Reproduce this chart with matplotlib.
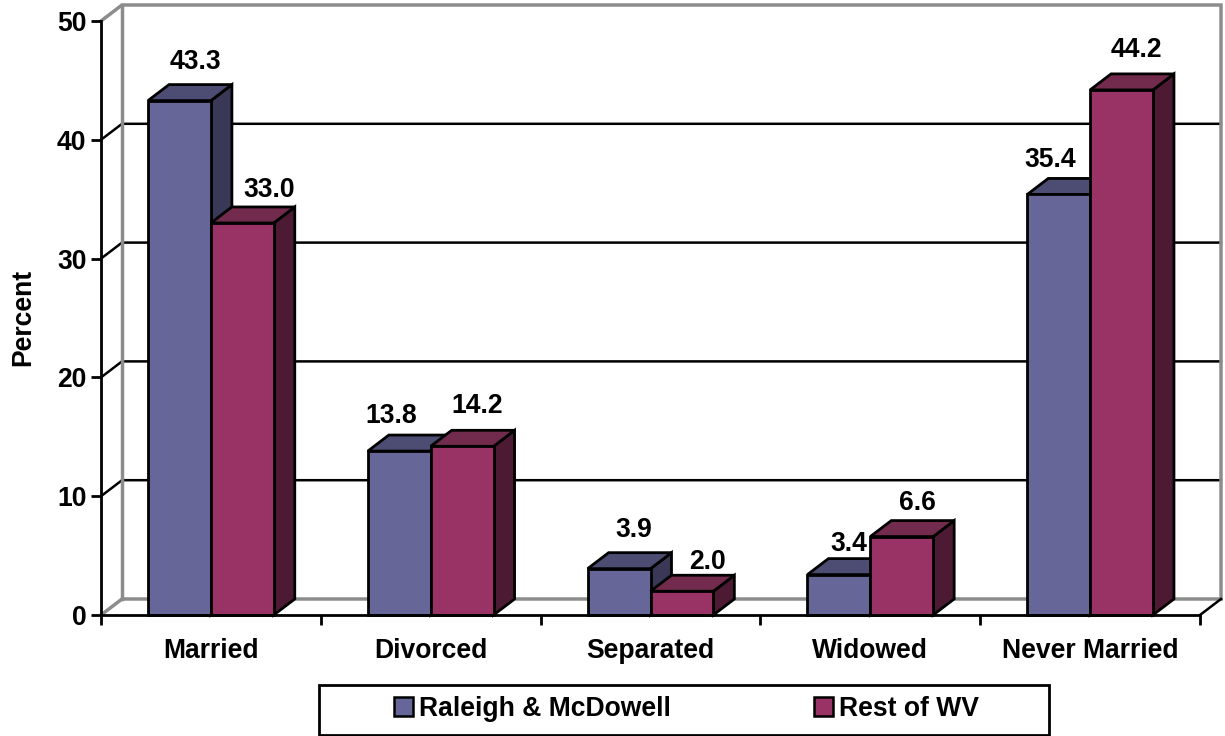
import matplotlib
matplotlib.use('Agg')
import matplotlib.pyplot as plt
from matplotlib.patches import Patch, Polygon, Rectangle

plt.rcParams['font.family'] = ['Liberation Sans', 'DejaVu Sans']
plt.rcParams['font.weight'] = 'bold'
plt.rcParams['font.size'] = 19.1

categories = ['Married', 'Divorced', 'Separated', 'Widowed', 'Never Married']
raleigh = [43.3, 13.8, 3.9, 3.4, 35.4]
rest_wv = [33.0, 14.2, 2.0, 6.6, 44.2]
series_names = ['Raleigh & McDowell', 'Rest of WV']
y_ticks = [0, 10, 20, 30, 40, 50]

# label nudges in pixels, relative to the front top centre of each bar
raleigh_nudge = [(16, 39), (-8, 35), (15, 39), (10, 31), (-8, 34)]
rest_nudge = [(27, 33), (15, 40), (26, 29), (16, 34), (15, 40)]

FRONT = ['#666699', '#993366']
TOP = ['#4d4d73', '#732b4d']
SIDE = ['#393957', '#4d1a33']
LW = 2.0
GRAY = '#8c8c8c'

W = 1225
H = 736
fig = plt.figure(figsize=(W / 100, H / 100), dpi=100)
ax = fig.add_axes([101 / W, (H - 615) / H, (1200 - 101) / W, (615 - 21) / H])
ax.set_xlim(0, 5)
ax.set_ylim(0, 50)

# depth of the fake 3d box
dx = 21 / 219.8
dy = 16 / 11.88
bar_w = 0.286

# back wall
for v in y_ticks[1:-1]:
    ax.plot([0, dx, 5 + dx], [v, v + dy, v + dy], color='black', lw=1.8, clip_on=False, zorder=1,
            solid_joinstyle='miter')
ax.plot([0, dx, 5 + dx], [0, dy, dy], color=GRAY, lw=2.5, clip_on=False, zorder=1.1, solid_joinstyle='miter')
ax.plot([0, dx, 5 + dx, 5 + dx], [50, 50 + dy, 50 + dy, dy], color=GRAY, lw=2.5, clip_on=False, zorder=1.1,
        solid_joinstyle='miter')
ax.plot([dx, dx], [dy, 50 + dy], color=GRAY, lw=2.5, clip_on=False, zorder=1.1)
ax.plot([5, 5 + dx], [0, dy], color='black', lw=1.8, clip_on=False, zorder=1.2)


def bar3d(x0, val, s, z):
    kw = dict(edgecolor='black', lw=LW, clip_on=False, zorder=z, joinstyle='miter')
    ax.add_patch(Polygon([(x0 + bar_w, 0), (x0 + bar_w + dx, dy), (x0 + bar_w + dx, val + dy), (x0 + bar_w, val)],
                         facecolor=SIDE[s], **kw))
    ax.add_patch(Polygon([(x0, val), (x0 + dx, val + dy), (x0 + bar_w + dx, val + dy), (x0 + bar_w, val)],
                         facecolor=TOP[s], **kw))
    ax.bar(x0, val, width=bar_w, align='edge', color=FRONT[s], edgecolor='black', linewidth=LW, zorder=z,
           clip_on=False)


for i in range(len(categories)):
    x1 = i + 0.5 - bar_w
    x2 = i + 0.5
    bar3d(x1, raleigh[i], 0, 3)
    bar3d(x2, rest_wv[i], 1, 4)
    ax.annotate('%.1f' % raleigh[i], xy=(x1 + bar_w / 2, raleigh[i]), xytext=raleigh_nudge[i],
                textcoords='offset pixels', ha='center', va='center', zorder=6)
    ax.annotate('%.1f' % rest_wv[i], xy=(x2 + bar_w / 2, rest_wv[i]), xytext=rest_nudge[i],
                textcoords='offset pixels', ha='center', va='center', zorder=6)

ax.spines['top'].set_visible(False)
ax.spines['right'].set_visible(False)
ax.spines['left'].set_linewidth(LW)
ax.spines['bottom'].set_linewidth(LW)
ax.spines['left'].set_zorder(5)
ax.spines['bottom'].set_zorder(5)
ax.patch.set_visible(False)

ax.set_yticks(y_ticks)
ax.tick_params(axis='y', length=7.5, width=LW, pad=3)
ax.set_xticks(range(6))
ax.set_xticklabels([])
ax.set_xticks([i + 0.5 for i in range(5)], minor=True)
ax.set_xticklabels(categories, minor=True)
ax.tick_params(axis='x', which='major', length=7.5, width=LW)
ax.tick_params(axis='x', which='minor', length=0, pad=16.5)
fig.text(23 / W, (H - 317) / H, 'Percent', rotation=90, ha='center', va='center')

# legend box
fig.add_artist(Rectangle((319 / W, (H - 735) / H), 730 / W, 50 / H, transform=fig.transFigure,
                         facecolor='white', edgecolor='black', lw=2.0))
handles = [Patch(facecolor=FRONT[0], edgecolor='black', lw=1.8), Patch(facecolor=FRONT[1], edgecolor='black', lw=1.8)]
fig.legend(handles, series_names, ncol=2, loc='center', bbox_to_anchor=(686 / W, (H - 709) / H), frameon=False,
           handlelength=0.72, handleheight=0.72, handletextpad=0.22, columnspacing=5.4, borderpad=0, borderaxespad=0)

fig.savefig('out.png', dpi=100)
